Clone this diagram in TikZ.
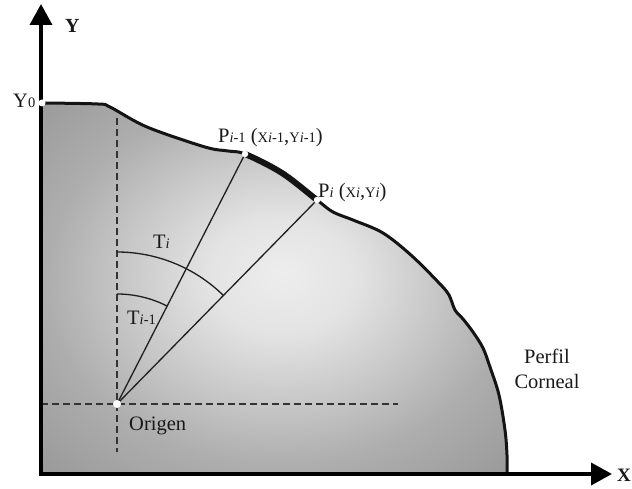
\documentclass[tikz,border=0pt]{standalone}
\usepackage{fontspec}
\setmainfont{Liberation Serif}
\usetikzlibrary{arrows.meta,calc}
\pgfdeclareradialshading{cornea}{\pgfpoint{1bp}{2bp}}{rgb(0bp)=(0.93,0.93,0.93); rgb(8bp)=(0.89,0.89,0.89); rgb(25bp)=(0.68,0.68,0.68); rgb(36bp)=(0.60,0.60,0.60); rgb(50bp)=(0.58,0.58,0.58)}
\newcommand{\subsz}[1]{{\fontsize{14.5}{16}\selectfont #1}}
\begin{document}
\begin{tikzpicture}[x=1pt,y=-1pt,
  axisline/.style={line width=3.6pt, line join=miter, color=black},
  profile/.style={line width=3pt, color=black!92, line join=round},
  ray/.style={line width=1.3pt, color=black!88},
  guide/.style={line width=1.4pt, color=black!80, dash pattern=on 7pt off 4pt},
  dot/.style={circle, fill=white, inner sep=0pt, minimum size=7pt},
  lbl/.style={inner sep=0pt, anchor=base west, font=\fontsize{20.5}{25}\selectfont, text=black!90},
  axlbl/.style={lbl, font=\fontsize{20}{23}\selectfont\bfseries},
]
\useasboundingbox (0,0) rectangle (632,489);
% key points
\coordinate (Y0) at (42,103);
\coordinate (P1) at (245,154);
\coordinate (P2) at (317,200);
\coordinate (O) at (117,404);
\coordinate (B) at (507,474);
\coordinate (C) at (41,474);
\coordinate (Ytip) at (41,4);
\coordinate (Xtip) at (612,474);
\coordinate (Vtop) at (117,118);
\coordinate (Vbot) at (117,452);
\coordinate (Hl) at (41,404);
\coordinate (Hr) at (398,404);
\def\corneacurve{plot[smooth,tension=0.55] coordinates {(Y0) (98,104) (110,107) (147,127) (205,147) (228,151) (P1) (282,173) (P2) (333,212) (353,220) (383,233) (412,256) (440,284) (449,295) (455,310) (463,319) (473,332) (483,348) (490,367) (499,395) (505,430) (507,455) (B)}}
% filled region
\shade[shading=cornea] \corneacurve -- (C) -- cycle;
% guides
\draw[guide] (Vtop) -- (Vbot);
\draw[guide] (Hl) -- (Hr);
% rays
\draw[ray] (O) -- (P1);
\draw[ray] (O) -- (P2);
% angle arcs
\draw[ray] ($(O)+(0,-152)$) arc[start angle=-90, end angle=-45.6, radius=152];
\draw[ray] ($(O)+(0,-110)$) arc[start angle=-90, end angle=-62.9, radius=110];
% profile
\draw[profile] \corneacurve;
\begin{scope}
  \clip (O) -- ($(O)!4!(P1)$) -- ($(O)!4!(P2)$) -- cycle;
  \draw[profile, line width=6pt] \corneacurve;
\end{scope}
% axes
\draw[axisline, {Triangle[width=22pt,length=21pt]}-{Triangle[width=22pt,length=21pt]}] (Ytip) -- (C) -- (Xtip);
% dots
\node[dot] (dY0) at (Y0) {};
\node[dot, minimum size=6.5pt] (dP1) at (P1) {};
\node[dot, minimum size=6.5pt] (dP2) at (P2) {};
\node[dot, minimum size=8pt] (dO) at (O) {};
% labels
\node[axlbl] (lY) at (65,33) {Y};
\node[axlbl, font=\fontsize{19}{23}\selectfont\bfseries] (lX) at (617,481) {X};
\node[lbl] (lY0) at (13,108) {Y\subsz{0}};
\node[lbl] (lP1) at (218,143) {P\subsz{\textit{i}-1} (\subsz{X\textit{i}-1},\subsz{Y\textit{i}-1})};
\node[lbl] (lP2) at (318,198) {P\subsz{\textit{i}} (\subsz{X\textit{i}},\subsz{Y\textit{i}})};
\node[lbl] (lTi) at (153,248) {T\subsz{\textit{i}}};
\node[lbl] (lTi1) at (127,324) {T\subsz{\textit{i}-1}};
\node[lbl] (lO) at (129,430) {Origen};
\node[lbl, anchor=center, align=center] (lPC) at (547,368.7) {Perfil\\Corneal};
\end{tikzpicture}
\end{document}
